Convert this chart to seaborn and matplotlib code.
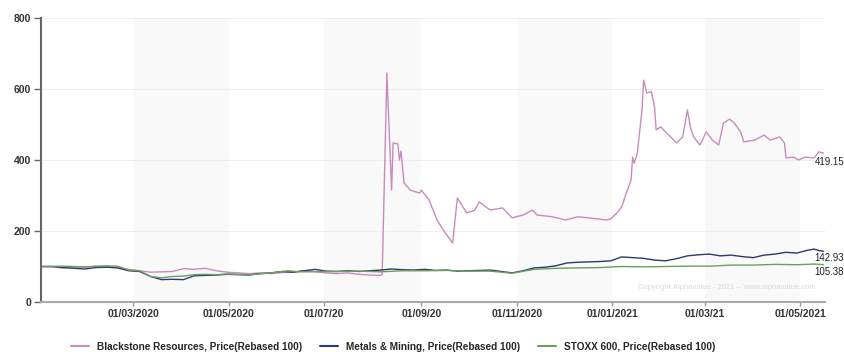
import matplotlib
matplotlib.use('Agg')
import matplotlib.pyplot as plt
import seaborn as sns
import pandas as pd

# Blackstone Resources, rebased 100
bsr_dates = ['2020-01-02', '2020-01-09', '2020-01-16', '2020-01-23', '2020-01-30', '2020-02-06',
             '2020-02-13', '2020-02-20', '2020-02-27', '2020-03-05', '2020-03-12', '2020-03-19',
             '2020-03-26', '2020-04-02', '2020-04-09', '2020-04-16', '2020-04-23', '2020-04-30',
             '2020-05-07', '2020-05-14', '2020-05-21', '2020-05-28', '2020-06-04', '2020-06-11',
             '2020-06-18', '2020-06-25', '2020-07-02', '2020-07-09', '2020-07-16', '2020-07-23',
             '2020-07-30', '2020-08-06', '2020-08-07', '2020-08-10', '2020-08-13', '2020-08-14',
             '2020-08-17', '2020-08-18', '2020-08-19', '2020-08-21', '2020-08-25', '2020-08-31',
             '2020-09-01', '2020-09-06', '2020-09-11', '2020-09-15', '2020-09-21', '2020-09-24',
             '2020-09-30', '2020-10-05', '2020-10-08', '2020-10-15', '2020-10-23', '2020-10-29',
             '2020-11-05', '2020-11-11', '2020-11-14', '2020-11-24', '2020-12-02', '2020-12-10',
             '2020-12-17', '2020-12-28', '2020-12-31', '2021-01-04', '2021-01-07', '2021-01-10',
             '2021-01-13', '2021-01-14', '2021-01-15', '2021-01-17', '2021-01-20', '2021-01-21',
             '2021-01-23', '2021-01-26', '2021-01-28', '2021-01-29', '2021-02-01', '2021-02-04',
             '2021-02-08', '2021-02-11', '2021-02-15', '2021-02-18', '2021-02-20', '2021-02-22',
             '2021-02-26', '2021-03-02', '2021-03-06', '2021-03-10', '2021-03-13', '2021-03-17',
             '2021-03-20', '2021-03-24', '2021-03-26', '2021-04-02', '2021-04-08', '2021-04-12',
             '2021-04-18', '2021-04-21', '2021-04-22', '2021-04-27', '2021-04-30', '2021-05-04',
             '2021-05-10', '2021-05-13', '2021-05-16']
bsr_values = [100, 99, 96, 99, 98, 101,
              100, 97, 92, 88, 84, 85,
              86, 94, 92, 95, 88, 84,
              82, 80, 82, 80, 83, 84,
              88, 86, 82, 80, 82, 78,
              76, 75, 78, 645, 315, 448,
              445, 400, 425, 335, 315, 307,
              315, 287, 231, 203, 166, 293,
              251, 258, 282, 259, 265, 237,
              245, 259, 245, 240, 231, 240,
              237, 231, 234, 251, 268, 307,
              344, 408, 391, 420, 541, 625,
              589, 592, 549, 485, 493, 479,
              462, 448, 465, 541, 490, 465,
              442, 479, 456, 442, 504, 515,
              504, 479, 451, 456, 470, 456,
              465, 448, 406, 408, 400, 408,
              406, 423, 419.15]

# Metals & Mining, rebased 100
mm_dates = ['2020-01-02', '2020-01-09', '2020-01-16', '2020-01-23', '2020-01-30', '2020-02-06',
            '2020-02-13', '2020-02-20', '2020-02-27', '2020-03-05', '2020-03-12', '2020-03-19',
            '2020-03-26', '2020-04-02', '2020-04-09', '2020-04-16', '2020-04-23', '2020-04-30',
            '2020-05-07', '2020-05-14', '2020-05-21', '2020-05-28', '2020-06-04', '2020-06-11',
            '2020-06-18', '2020-06-25', '2020-07-02', '2020-07-09', '2020-07-16', '2020-07-23',
            '2020-07-30', '2020-08-06', '2020-08-13', '2020-08-20', '2020-08-27', '2020-09-03',
            '2020-09-10', '2020-09-17', '2020-09-24', '2020-10-01', '2020-10-08', '2020-10-15',
            '2020-10-22', '2020-10-29', '2020-11-05', '2020-11-12', '2020-11-19', '2020-11-26',
            '2020-12-03', '2020-12-10', '2020-12-17', '2020-12-24', '2020-12-31', '2021-01-07',
            '2021-01-14', '2021-01-21', '2021-01-28', '2021-02-04', '2021-02-11', '2021-02-18',
            '2021-02-25', '2021-03-04', '2021-03-11', '2021-03-18', '2021-03-25', '2021-04-01',
            '2021-04-08', '2021-04-15', '2021-04-22', '2021-04-29', '2021-05-06', '2021-05-10',
            '2021-05-13', '2021-05-16']
mm_values = [100, 100, 97, 95, 93, 97,
             98, 96, 88, 86, 72, 63,
             64, 63, 74, 75, 76, 78,
             77, 76, 80, 82, 86, 84,
             88, 92, 87, 86, 88, 86,
             88, 90, 93, 91, 90, 92,
             89, 90, 87, 88, 89, 90,
             86, 82, 88, 96, 98, 102,
             110, 112, 113, 114, 116, 127,
             125, 123, 118, 116, 122, 130,
             133, 135, 130, 132, 128, 125,
             132, 135, 140, 138, 146, 149,
             145, 142.93]

# STOXX 600, rebased 100
sx_dates = ['2020-01-02', '2020-01-16', '2020-01-30', '2020-02-13', '2020-02-20', '2020-02-27',
            '2020-03-05', '2020-03-12', '2020-03-19', '2020-03-26', '2020-04-02', '2020-04-09',
            '2020-04-16', '2020-04-23', '2020-04-30', '2020-05-14', '2020-05-28', '2020-06-08',
            '2020-06-15', '2020-06-25', '2020-07-09', '2020-07-23', '2020-08-06', '2020-08-20',
            '2020-09-03', '2020-09-17', '2020-10-01', '2020-10-15', '2020-10-29', '2020-11-12',
            '2020-11-26', '2020-12-10', '2020-12-24', '2021-01-07', '2021-01-21', '2021-02-04',
            '2021-02-18', '2021-03-04', '2021-03-18', '2021-04-01', '2021-04-15', '2021-04-29',
            '2021-05-10', '2021-05-16']
sx_values = [100, 101, 99, 102, 101, 90,
             88, 72, 68, 72, 73, 77,
             78, 77, 79, 77, 82, 88,
             85, 85, 86, 87, 85, 88,
             88, 89, 87, 87, 81, 92,
             95, 96, 97, 100, 99, 100,
             101, 101, 104, 104, 106, 105,
             107, 105.38]

series_names = ['Blackstone Resources, Price(Rebased 100)',
                'Metals & Mining, Price(Rebased 100)',
                'STOXX 600, Price(Rebased 100)']
series_colors = ['#c98bbd', '#2f3a6b', '#6e9e5e']
shade_starts = ['2020-03-01', '2020-07-01', '2020-11-01', '2021-03-01']
shade_ends = ['2020-05-01', '2020-09-01', '2021-01-01', '2021-05-01']
tick_dates = ['2020-03-01', '2020-05-01', '2020-07-01', '2020-09-01',
              '2020-11-01', '2021-01-01', '2021-03-01', '2021-05-01']
tick_labels = ['01/03/2020', '01/05/2020', '01/07/20', '01/09/20',
               '01/11/2020', '01/01/2021', '01/03/21', '01/05/2021']

frames = []
for name, d, v in zip(series_names, [bsr_dates, mm_dates, sx_dates],
                      [bsr_values, mm_values, sx_values]):
    frames.append(pd.DataFrame({'date': pd.to_datetime(d), 'value': v, 'series': name}))
df = pd.concat(frames, ignore_index=True)

sns.set_style('white')
plt.rcParams['font.family'] = ['Liberation Sans', 'DejaVu Sans']

fig = plt.figure(figsize=(8.45, 3.52), dpi=100)
ax = fig.add_axes([0.0485, 0.142, 0.928, 0.807])

for s, e in zip(shade_starts, shade_ends):
    ax.axvspan(pd.Timestamp(s), pd.Timestamp(e), color='#f9f9f9', zorder=0, lw=0)

for yv in [200, 400, 600, 800]:
    ax.axhline(yv, color='#eeeeee', lw=0.8, zorder=0.5)

sns.lineplot(data=df, x='date', y='value', hue='series', hue_order=series_names,
             palette=series_colors, linewidth=1.0, ax=ax, legend=False)

ax.set_xlim(pd.Timestamp('2020-01-02'), pd.Timestamp('2021-05-17'))
ax.set_ylim(0, 800)
ax.set_yticks([0, 200, 400, 600, 800])
ax.set_xticks(pd.to_datetime(tick_dates))
ax.set_xticklabels(tick_labels)
ax.set_xlabel('')
ax.set_ylabel('')

for lbl in ax.get_xticklabels() + ax.get_yticklabels():
    lbl.set_fontweight('bold')
    lbl.set_fontsize(7.5)
    lbl.set_color('#333333')

ax.tick_params(axis='y', direction='out', length=5, width=1, color='#666666', pad=2, left=True)
ax.tick_params(axis='x', direction='out', length=3, width=1, color='#999999', pad=2, bottom=True)

for side in ['top', 'right']:
    ax.spines[side].set_visible(False)
ax.spines['left'].set_color('#666666')
ax.spines['left'].set_linewidth(1.5)
ax.spines['bottom'].set_color('#aaaaaa')
ax.spines['bottom'].set_linewidth(1.5)

# end-value labels
last_vals = [bsr_values[-1], mm_values[-1], sx_values[-1]]
last_dates = [bsr_dates[-1], mm_dates[-1], sx_dates[-1]]
offsets = [-9, -7, -7]
for d, v, off in zip(last_dates, last_vals, offsets):
    ax.annotate(f'{v:.2f}', xy=(pd.Timestamp(d), v), xytext=(-9, off),
                textcoords='offset pixels', ha='left', va='center',
                fontsize=7, color='#222222', annotation_clip=False)

ax.text(0.875, 0.05, 'Copyright Alphavalue - 2021 -- www.alphavalue.com',
        transform=ax.transAxes, ha='center', va='center', fontsize=5.5, color='#dadada')

handles = [plt.Line2D([], [], color=c, lw=1.5) for c in series_colors]
fig.legend(handles, series_names, loc='center', bbox_to_anchor=(0.465, 0.015),
           ncol=3, frameon=False, handlelength=1.8, columnspacing=1.8,
           prop={'weight': 'bold', 'size': 7.2})

fig.savefig('out.png', dpi=100, facecolor='white')
